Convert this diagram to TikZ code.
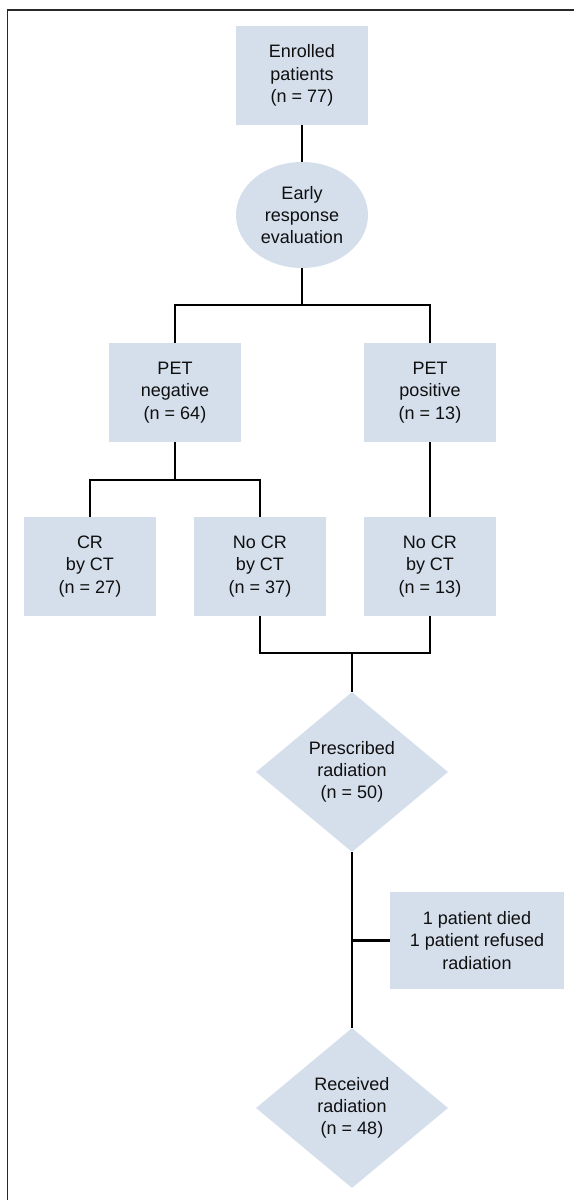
\documentclass[tikz,border=0pt]{standalone}
\usepackage{fontspec}
\setmainfont{Liberation Sans}
\usetikzlibrary{shapes.geometric}
\definecolor{boxfill}{RGB}{213,223,236}
\definecolor{txt}{RGB}{15,15,15}
\definecolor{framec}{RGB}{40,40,40}
\tikzset{
  base/.style={fill=boxfill, draw=none, inner sep=0pt, align=center, text=txt,
    font=\fontsize{18}{22.3}\selectfont},
  rbox/.style={base, rectangle, minimum width=132pt, minimum height=99pt},
  ebox/.style={base, ellipse, minimum width=132pt, minimum height=106pt},
  dbox/.style={base, diamond, minimum width=192pt, minimum height=160pt},
  nbox/.style={base, rectangle, minimum width=174pt, minimum height=97pt},
  conn/.style={draw=black, line width=2.7pt, line join=miter},
}
\begin{document}
\begin{tikzpicture}[x=1pt,y=-1pt]
\useasboundingbox (0,0) rectangle (574,1200);
\draw[framec, line width=1.6pt] (574,10) -- (7.5,10) -- (7.5,1200);

\node[rbox] (enr) at (302,75.5) {Enrolled\\patients\\(n = 77)};
\node[ebox] (ev) at (302,215) {Early\\response\\evaluation};
\node[rbox] (pneg) at (175,392.5) {PET\\negative\\(n = 64)};
\node[rbox] (ppos) at (430,392.5) {PET\\positive\\(n = 13)};
\node[rbox] (cr) at (90,566.5) {CR\\by CT\\(n = 27)};
\node[rbox] (nc37) at (260,566.5) {No CR\\by CT\\(n = 37)};
\node[rbox] (nc13) at (430,566.5) {No CR\\by CT\\(n = 13)};
\node[dbox] (pr) at (352,772) {Prescribed\\radiation\\(n = 50)};
\node[nbox] (note) at (477,940.3) {1 patient died\\1 patient refused\\radiation};
\node[dbox] (rcv) at (352,1108) {Received\\radiation\\(n = 48)};

\coordinate (j1) at (302,305);
\coordinate (j2) at (175,480);
\coordinate (j3) at (352,653);

\draw[conn] (enr.south) -- (ev.north);
\draw[conn] (ev.south) -- (j1);
\draw[conn] (pneg.north) |- (j1) -| (ppos.north);
\draw[conn] (pneg.south) -- (j2);
\draw[conn] (cr.north) |- (j2) -| (nc37.north);
\draw[conn] (ppos.south) -- (nc13.north);
\draw[conn] (nc37.south) |- (j3) -| (nc13.south);
\draw[conn] (j3) -- (pr.north);
\draw[conn] (pr.south) -- (rcv.north);
\draw[conn] (note.west) -- (note.west -| pr.south);
\end{tikzpicture}
\end{document}
